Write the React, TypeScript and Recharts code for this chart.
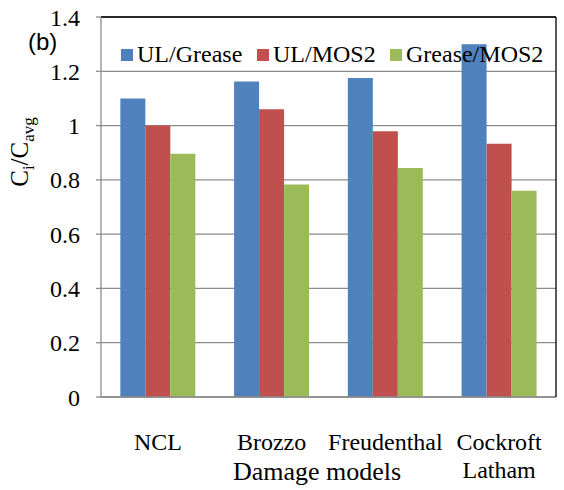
import React from "react";
import {
  BarChart, Bar, XAxis, YAxis, CartesianGrid, ReferenceLine,
} from "recharts";

const MODELS = ["NCL", "Brozzo", "Freudenthal", "Cockroft Latham"];
const UL_GREASE = [1.1, 1.162, 1.175, 1.3];
const UL_MOS2 = [1.0, 1.06, 0.979, 0.933];
const GREASE_MOS2 = [0.896, 0.783, 0.844, 0.76];
const Y_TICKS = [0, 0.2, 0.4, 0.6, 0.8, 1, 1.2, 1.4];

const SERIES = [
  { key: "ulGrease", name: "UL/Grease", color: "#4F81BD" },
  { key: "ulMos2", name: "UL/MOS2", color: "#C0504D" },
  { key: "greaseMos2", name: "Grease/MOS2", color: "#9BBB59" },
];

const data = MODELS.map((m, i) => ({
  model: m,
  ulGrease: UL_GREASE[i],
  ulMos2: UL_MOS2[i],
  greaseMos2: GREASE_MOS2[i],
}));

const SERIF = "'Liberation Serif', 'Times New Roman', serif";
const AXIS_GRAY = "#8c8c8c";
// left edge of each legend entry inside the plot
const LEGEND_X = [121, 257, 390];

// category names wrap onto two lines when they contain a space
function CategoryTick(props: any) {
  const { x, y, payload } = props;
  const lines = String(payload.value).split(" ");
  return (
    <text x={x} y={y + 45} textAnchor="middle" fontFamily={SERIF} fontSize={24} fill="#000">
      {lines.map((l, i) => (
        <tspan key={i} x={x} dy={i === 0 ? 0 : 28}>{l}</tspan>
      ))}
    </text>
  );
}

function LegendOverlay() {
  return (
    <>
      {SERIES.map((s, i) => (
        <div
          key={s.key}
          style={{
            position: "absolute", left: LEGEND_X[i], top: 42, display: "flex", alignItems: "center",
            fontFamily: SERIF, fontSize: 24, lineHeight: "25px", color: "#000", whiteSpace: "nowrap",
          }}
        >
          <span style={{ width: 12, height: 12, background: s.color, marginRight: 4, display: "inline-block" }} />
          <span>{s.name}</span>
        </div>
      ))}
    </>
  );
}

export default function App() {
  return (
    <div style={{ position: "absolute", left: 0, top: 0, width: 564, height: 490, background: "#fff" }}>
      <BarChart
        width={564}
        height={490}
        data={data}
        margin={{ top: 17, right: 0, left: 0, bottom: 0 }}
        barCategoryGap="17%"
        barGap={0}
      >
        <CartesianGrid xAxisId="cat" vertical={false} stroke={AXIS_GRAY} strokeWidth={1.3} />
        {/* boundary tick marks between categories */}
        <XAxis
          xAxisId="bounds"
          type="number"
          domain={[0, MODELS.length]}
          ticks={[0, 1, 2, 3, 4]}
          tickFormatter={() => ""}
          tickSize={6}
          tickLine={{ stroke: AXIS_GRAY, strokeWidth: 1.3 }}
          axisLine={false}
          height={0}
        />
        <XAxis
          xAxisId="cat"
          dataKey="model"
          interval={0}
          height={93}
          tickLine={false}
          axisLine={{ stroke: AXIS_GRAY, strokeWidth: 1.3 }}
          tick={<CategoryTick />}
        />
        <YAxis
          domain={[0, 1.4]}
          ticks={Y_TICKS}
          width={101}
          tickSize={5}
          tickMargin={16}
          axisLine={{ stroke: AXIS_GRAY, strokeWidth: 1.3 }}
          tickLine={{ stroke: AXIS_GRAY, strokeWidth: 1.3 }}
          tick={{ fontFamily: SERIF, fontSize: 24, fill: "#000" }}
        />
        <YAxis
          yAxisId="right"
          orientation="right"
          width={8}
          tick={false}
          tickLine={false}
          axisLine={{ stroke: "#000", strokeWidth: 1.3 }}
        />
        <ReferenceLine xAxisId="cat" y={1.4} stroke="#000" strokeWidth={1.3} />
        {SERIES.map((s) => (
          <Bar key={s.key} xAxisId="cat" dataKey={s.key} name={s.name} fill={s.color} isAnimationActive={false} />
        ))}
        <text x={28} y={152} transform="rotate(-90 28 152)" textAnchor="middle" fontFamily={SERIF} fontSize={25} fill="#000">
          C<tspan fontSize={17} dy={6}>i</tspan>
          <tspan dy={-6}>/C</tspan>
          <tspan fontSize={17} dy={6}>avg</tspan>
        </text>
        <text x={28} y={50} fontFamily="'Liberation Sans', Arial, sans-serif" fontSize={24} fill="#000">(b)</text>
        <text x={317} y={480} textAnchor="middle" fontFamily={SERIF} fontSize={26} fill="#000">Damage models</text>
      </BarChart>
      <LegendOverlay />
    </div>
  );
}
